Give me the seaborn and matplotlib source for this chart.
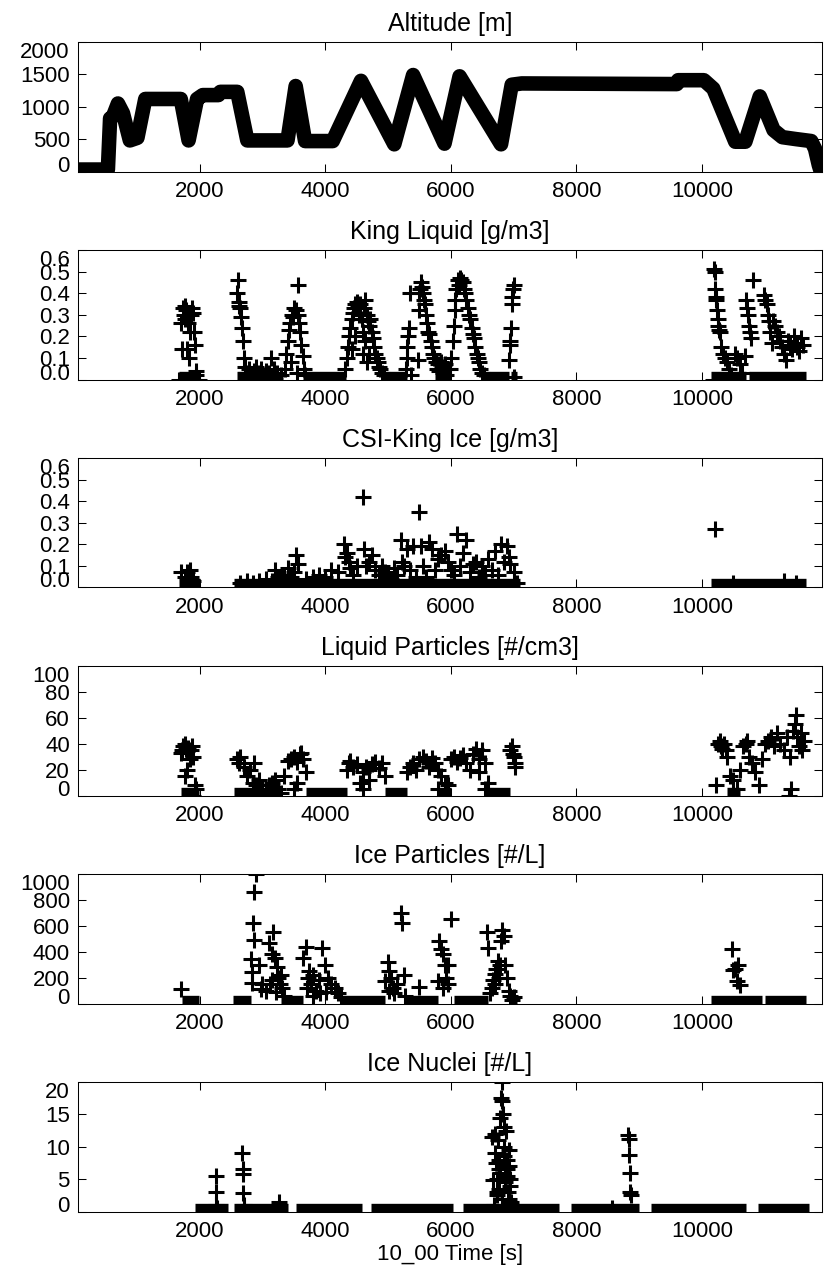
import matplotlib
matplotlib.use("Agg")
import matplotlib.pyplot as plt
import seaborn as sns
import pandas as pd
from matplotlib.transforms import blended_transform_factory

sns.set_style("white")
plt.rcParams['font.family'] = ['Liberation Sans', 'DejaVu Sans']
plt.rcParams['text.color'] = 'black'
plt.rcParams['axes.labelcolor'] = 'black'
plt.rcParams['xtick.color'] = 'black'
plt.rcParams['ytick.color'] = 'black'

# ---------------- data ----------------
titles = ["Altitude [m]", "King Liquid [g/m3]", "CSI-King Ice [g/m3]",
          "Liquid Particles [#/cm3]", "Ice Particles [#/L]", "Ice Nuclei [#/L]"]
xlabel = "10_00 Time [s]"
x_ticks = [2000, 4000, 6000, 8000, 10000]
x_range = [64, 11911]

y_ranges = [(0, 2000), (0, 0.6), (0, 0.6), (0, 100), (0, 1000), (0, 20)]
y_ticks = [[0, 500, 1000, 1500, 2000],
           [0, 0.1, 0.2, 0.3, 0.4, 0.5, 0.6],
           [0, 0.1, 0.2, 0.3, 0.4, 0.5, 0.6],
           [0, 20, 40, 60, 80, 100],
           [0, 200, 400, 600, 800, 1000],
           [0, 5, 10, 15, 20]]
y_ticklabels = [["0", "500", "1000", "1500", "2000"],
                ["0.0", "0.1", "0.2", "0.3", "0.4", "0.5", "0.6"],
                ["0.0", "0.1", "0.2", "0.3", "0.4", "0.5", "0.6"],
                ["0", "20", "40", "60", "80", "100"],
                ["0", "200", "400", "600", "800", "1000"],
                ["0", "5", "10", "15", "20"]]

# Altitude trace
alt_t = [64, 540, 575, 620, 700, 780, 890, 1010, 1135, 1700, 1825, 1960, 2050, 2300,
         2330, 2600, 2760, 3400, 3530, 3680, 4120, 4570, 5100, 5400, 5900, 6140,
         6800, 6970, 7130, 9600, 9620, 10030, 10180, 10530, 10690, 10920, 11140,
         11280, 11500, 11740, 11800, 11860, 11911]
alt_v = [30, 30, 820, 850, 1050, 900, 480, 520, 1120, 1120, 480, 1120, 1180, 1180,
         1230, 1230, 480, 480, 1320, 470, 470, 1400, 420, 1490, 430, 1470,
         420, 1340, 1360, 1350, 1410, 1410, 1280, 460, 460, 1160, 640,
         530, 500, 470, 350, 100, -60]

# King Liquid
kl_t = [1680, 1700, 1715, 1730, 1745, 1760, 1775, 1790, 1800, 1815, 1830, 1845, 1860, 1875, 1890, 1905, 1920, 1935, 1950, 1965, 1990,
        2590, 2610, 2620, 2635, 2650, 2665, 2680, 2695, 2710, 2725, 2740,
        2780, 2820, 2860, 2900, 2940, 2980, 3020, 3060, 3100, 3145, 3190, 3240, 3290,
        3360, 3380, 3400, 3420, 3440, 3455, 3470, 3490, 3510, 3530, 3545, 3560, 3575, 3590, 3605, 3620, 3640, 3660, 3680,
        4320, 4340, 4360, 4380, 4400, 4420, 4440, 4460, 4480, 4500, 4520, 4540, 4560, 4580, 4600, 4620, 4640, 4660,
        4680, 4700, 4720, 4740, 4760, 4780, 4800, 4820, 4840, 4860, 4880, 4900, 4930, 4600, 4640, 4700, 4660, 4420, 4470,
        5290, 5300, 5310, 5320, 5330, 5345, 5360, 5480, 5490, 5500, 5515, 5530, 5545, 5560, 5575, 5590, 5605, 5620,
        5640, 5660, 5680, 5700, 5720, 5740, 5760, 5780, 5800, 5820, 5840, 5860, 5880, 5900, 5920, 5940,
        5990, 6010, 6030, 6050, 6060, 6070, 6090, 6110, 6130, 6150, 6170, 6190, 6210, 6230, 6250, 6270, 6290, 6310,
        6330, 6350, 6370, 6390, 6410, 6430, 6450, 6470, 6500, 6530,
        6930, 6940, 6950, 6960, 6970, 6980, 6990, 7000, 7010,
        10190, 10200, 10210, 10220, 10230, 10240, 10250, 10260, 10270, 10280, 10180,
        10310, 10340, 10370, 10400, 10430, 10460, 10520, 10560, 10600, 10640, 10680,
        10700, 10720, 10735, 10750, 10765, 10780, 10820,
        10990, 11010, 11030, 11050, 11070, 11090, 11110,
        11130, 11160, 11190, 11220, 11250, 11280, 11310, 11340, 11370, 11400, 11430, 11460, 11490, 11520, 11550, 11580, 11610,
        10500, 10900, 11400]
kl_v = [0.00, 0.26, 0.14, 0.33, 0.30, 0.34, 0.28, 0.32, 0.14, 0.26, 0.10, 0.22, 0.30, 0.33, 0.31, 0.22, 0.16, 0.04, 0.02, 0.00, 0.00,
        0.40, 0.46, 0.36, 0.34, 0.33, 0.29, 0.24, 0.18, 0.10, 0.06, 0.03,
        0.05, 0.02, 0.04, 0.06, 0.03, 0.05, 0.02, 0.04, 0.03, 0.10, 0.05, 0.03, 0.02,
        0.05, 0.12, 0.18, 0.23, 0.26, 0.08, 0.30, 0.29, 0.33, 0.32, 0.03, 0.30, 0.44, 0.26, 0.22, 0.16, 0.11, 0.05, 0.02,
        0.05, 0.10, 0.15, 0.20, 0.24, 0.28, 0.31, 0.33, 0.35, 0.36, 0.34, 0.30, 0.35, 0.28, 0.22, 0.33, 0.37, 0.30,
        0.27, 0.25, 0.28, 0.22, 0.19, 0.15, 0.12, 0.10, 0.08, 0.06, 0.05, 0.03, 0.02, 0.12, 0.18, 0.12, 0.08, 0.14, 0.20,
        0.05, 0.10, 0.15, 0.20, 0.24, 0.40, 0.02, 0.09, 0.32, 0.40, 0.42, 0.45, 0.43, 0.40, 0.37, 0.35, 0.30, 0.26,
        0.22, 0.21, 0.18, 0.15, 0.12, 0.10, 0.08, 0.05, 0.07, 0.04, 0.08, 0.06, 0.03, 0.07, 0.02, 0.05,
        0.05, 0.10, 0.18, 0.25, 0.32, 0.37, 0.42, 0.46, 0.44, 0.47, 0.46, 0.45, 0.42, 0.40, 0.37, 0.33, 0.30, 0.28,
        0.24, 0.21, 0.19, 0.15, 0.12, 0.10, 0.08, 0.05, 0.03, 0.02,
        0.09, 0.16, 0.18, 0.24, 0.35, 0.38, 0.42, 0.44, 0.01,
        0.51, 0.50, 0.42, 0.38, 0.37, 0.32, 0.28, 0.25, 0.23, 0.22, 0.00,
        0.15, 0.12, 0.10, 0.08, 0.05, 0.02, 0.12, 0.10, 0.07, 0.03, 0.11,
        0.37, 0.33, 0.30, 0.25, 0.22, 0.19, 0.46,
        0.39, 0.37, 0.35, 0.30, 0.27, 0.22, 0.17,
        0.27, 0.25, 0.22, 0.20, 0.18, 0.15, 0.12, 0.09, 0.18, 0.16, 0.14, 0.20, 0.17, 0.15, 0.13, 0.19, 0.16,
        0.00, 0.00, 0.00]
kl_zero = [(1680, 1990), (2600, 3330), (3650, 4330), (4900, 5300), (5750, 6000),
           (6480, 6930), (6960, 7060), (10150, 10700), (10750, 11650)]

# CSI-King Ice
ci_t = [1700, 1760, 1800, 1850, 1870, 1900,
        2650, 2750, 2850, 2950, 3050, 3150, 3200, 3250, 3300, 3350, 3400, 3450, 3500, 3530, 3560,
        3700, 3800, 3900, 4000, 4100, 4200, 4300, 4320, 4350, 4380, 4400, 4450, 4500,
        4600, 4620, 4650, 4700, 4750, 4800, 4850, 4900, 4950, 5000, 5050, 5100, 5150,
        5200, 5220, 5250, 5300, 5350, 5400, 5450, 5500, 5520, 5550, 5600, 5650, 5700, 5750,
        5800, 5850, 5900, 5950, 6000, 6050, 6100, 6150, 6200, 6250, 6300, 6350, 6400, 6450,
        6500, 6550, 6600, 6650, 6700, 6750, 6800, 6850, 6900, 6920, 6950, 7000, 7050,
        10200, 10500, 11300, 11500]
ci_v = [0.07, 0.05, 0.07, 0.08, 0.05, 0.03,
        0.02, 0.03, 0.02, 0.03, 0.04, 0.03, 0.08, 0.05, 0.04, 0.06, 0.09, 0.05, 0.07, 0.15, 0.11,
        0.04, 0.05, 0.06, 0.05, 0.08, 0.07, 0.20, 0.14, 0.16, 0.12, 0.09, 0.06, 0.10,
        0.42, 0.18, 0.10, 0.12, 0.15, 0.08, 0.06, 0.10, 0.07, 0.05, 0.04, 0.09, 0.06,
        0.22, 0.12, 0.10, 0.18, 0.08, 0.19, 0.05, 0.35, 0.19, 0.10, 0.05, 0.21, 0.18, 0.08,
        0.13, 0.15, 0.17, 0.12, 0.08, 0.06, 0.25, 0.10, 0.16, 0.22, 0.07, 0.11, 0.12, 0.05,
        0.10, 0.06, 0.13, 0.08, 0.17, 0.06, 0.20, 0.12, 0.19, 0.14, 0.11, 0.07, 0.02,
        0.27, 0.02, 0.03, 0.02]
ci_zero = [(1680, 2000), (2550, 7100), (10150, 11650)]

# Liquid Particles
lp_t = [1700, 1720, 1740, 1760, 1780, 1800, 1820, 1840, 1860, 1880, 1900, 1920, 1940, 1800, 1760, 1900,
        2600, 2620, 2650, 2700, 2750, 2800, 2850, 2870, 2900, 2950, 3000, 3050, 3100, 3150, 3200, 3250, 3300,
        3350, 3400, 3450, 3500, 3550, 3600, 3620, 3650, 3700, 3550, 3500,
        4350, 4380, 4400, 4450, 4500, 4550, 4600, 4650, 4700, 4750, 4800, 4850, 4900, 4950, 4600, 4700,
        5300, 5350, 5400, 5450, 5500, 5550, 5600, 5650, 5700, 5750, 5800, 5850, 5900, 5950, 5800,
        6000, 6050, 6100, 6150, 6200, 6250, 6300, 6350, 6400, 6450, 6500, 6550, 6600, 6450, 6550,
        6950, 6970, 6990, 7010, 7020, 7030,
        10220, 10250, 10280, 10300, 10320, 10350, 10380, 10400, 10450, 10500, 10550, 10600, 10650,
        10700, 10720, 10750, 10800, 10850, 10900, 10950, 11000, 11050, 11100, 11150, 11200, 11250,
        11300, 11350, 11400, 11420, 11450, 11480, 11500, 11520, 11550, 11580, 11600, 11620, 11380]
lp_v = [33, 35, 38, 40, 36, 34, 37, 28, 35, 38, 30, 8, 5, 20, 15, 0,
        28, 25, 30, 22, 15, 20, 10, 25, 8, 12, 5, 3, 8, 10, 12, 5, 2,
        15, 27, 28, 30, 26, 32, 33, 28, 18, 10, 5,
        20, 25, 27, 22, 24, 10, 18, 22, 20, 24, 26, 21, 25, 15, 5, 12,
        18, 22, 25, 20, 28, 30, 27, 22, 29, 25, 20, 15, 10, 8, 5,
        28, 30, 26, 29, 31, 25, 20, 32, 36, 28, 35, 25, 10, 18, 5,
        35, 38, 32, 30, 25, 22,
        8, 40, 42, 38, 36, 40, 35, 30, 15, 12, 5, 20, 38,
        40, 42, 30, 25, 18, 8, 28, 40, 42, 45, 38, 48, 40,
        35, 45, 30, 5, 50, 55, 62, 45, 38, 48, 35, 42, 0]
lp_zero = [(1700, 1990), (2550, 3300), (3700, 4350), (4950, 5300), (5800, 6000),
           (6550, 6950), (10400, 10600)]

# Ice Particles
ip_t = [1700,
        2820, 2830, 2840, 2850, 2860, 2870, 2900, 2950, 2980, 3000, 3050, 3100, 3150, 3170, 3200,
        3230, 3250, 3280, 3300, 3320, 3350, 3120, 3160, 3210,
        3650, 3700, 3720, 3750, 3780, 3800, 3850, 3900, 3950, 4000, 4050, 4100, 4150, 4200, 4250,
        3710, 3810, 3910, 4010,
        4950, 5000, 5020, 5050, 5080, 5100, 5150, 5200, 5220, 5250, 5270, 5010,
        5500,
        5800, 5820, 5850, 5870, 5900, 5920, 5950, 6000, 5960, 5880,
        6580, 6600, 6620, 6650, 6680, 6700, 6720, 6750, 6780, 6800, 6820, 6850, 6870, 6900,
        6920, 6950, 6980, 7000, 6760, 6710,
        10480, 10500, 10520, 10550, 10580, 10600]
ip_v = [115,
        340, 240, 160, 620, 490, 860, 1000, 300, 110, 150, 100, 470, 380, 550, 350,
        280, 200, 150, 220, 120, 60, 150, 180, 90,
        350, 440, 200, 250, 150, 220, 100, 180, 430, 300, 200, 150, 120, 80, 50,
        120, 60, 80, 90,
        170, 320, 250, 200, 120, 80, 150, 700, 620, 220, 60, 100,
        130,
        170, 480, 420, 380, 300, 200, 150, 650, 300, 120,
        550, 430, 80, 120, 180, 230, 270, 330, 300, 480, 570, 520, 300, 200,
        100, 60, 30, 50, 200, 150,
        420, 260, 270, 170, 300, 140]
ip_zero = [(1720, 1990), (2540, 2820), (3300, 3650), (4250, 4950), (5250, 5800),
           (6050, 6600), (6950, 7060), (10150, 10950), (11000, 11650)]

# Ice Nuclei
in_t = [2255, 2260, 2265, 2270,
        2680, 2685, 2690, 2695, 2700, 2705, 3270,
        6660, 6680, 6700, 6710, 6720, 6730, 6740, 6750, 6760, 6770, 6780, 6790, 6800, 6810,
        6820, 6830, 6840, 6850, 6860, 6870, 6880, 6890, 6900, 6910, 6920, 6930, 6940, 6950, 6960,
        6690, 6730, 6770, 6810, 6850, 6890, 6930,
        8560, 8820, 8830, 8840, 8850, 8860, 8870]
in_v = [5.5, 3.0, 1.0, 0.5,
        9.0, 6.5, 5.8, 2.8, 1.0, 0.5, 1.5,
        11.5, 4.8, 12.0, 9.0, 7.5, 5.0, 2.5, 11.0, 8.0, 3.5, 6.0, 14.5, 17.5, 20.0,
        17.0, 15.0, 13.0, 10.0, 7.0, 4.5, 12.5, 8.0, 6.5, 3.0, 9.5, 2.0, 5.0, 4.0, 1.5,
        1.0, 3.0, 6.5, 2.0, 8.5, 5.5, 7.0,
        0.5, 11.8, 11.2, 8.8, 6.0, 3.0, 2.5]
in_zero = [(1920, 2460), (2550, 3400), (3540, 4590), (4730, 6030), (6200, 7730),
           (7910, 9000), (9190, 10700), (10890, 11710)]

scatter_sets = [None, (kl_t, kl_v, kl_zero), (ci_t, ci_v, ci_zero),
                (lp_t, lp_v, lp_zero), (ip_t, ip_v, ip_zero), (in_t, in_v, in_zero)]

# ---------------- figure ----------------
W, H = 835, 1275
fig = plt.figure(figsize=(W / 100, H / 100), dpi=100)
left_px, right_px = 78, 822
tops = [42, 250, 458, 666, 874, 1082]
hpx = 129.5
FS = 16

for i, top in enumerate(tops):
    ax = fig.add_axes([left_px / W, 1 - (top + hpx) / H, (right_px - left_px) / W, hpx / H])
    lo, hi = y_ranges[i]
    if i == 0:
        df = pd.DataFrame({"t": alt_t, "v": alt_v})
        sns.lineplot(data=df, x="t", y="v", ax=ax, color="black", linewidth=10.5,
                     estimator=None, sort=False, solid_capstyle="round", solid_joinstyle="round")
    else:
        tt, vv, zr = scatter_sets[i]
        df = pd.DataFrame({"t": tt, "v": vv})
        for a, b in zr:
            ax.hlines(0, a, b, color="black", linewidth=12.5)
        sns.scatterplot(data=df, x="t", y="v", ax=ax, marker="+", s=121,
                        color="black", linewidth=2.2)
    ax.set_xlim(*x_range)
    ax.set_ylim(lo, hi)
    ax.set_xticks(x_ticks)
    ax.set_xticklabels([str(x) for x in x_ticks], fontsize=FS)
    ax.set_yticks(y_ticks[i])
    ax.set_yticklabels([])
    tr = blended_transform_factory(ax.transAxes, ax.transData)
    for tv, lab in zip(y_ticks[i], y_ticklabels[i]):
        if tv == hi:
            va = "top"
        elif tv == lo:
            va = "baseline"
        else:
            va = "center_baseline"
        ax.text(-0.011, tv, lab, transform=tr, ha="right", va=va, fontsize=FS)
    ax.tick_params(direction="in", length=5.5, width=0.75, top=True, right=True,
                   bottom=True, left=True, pad=7, colors="black")
    for sp in ax.spines.values():
        sp.set_visible(True)
        sp.set_color("black")
        sp.set_linewidth(0.75)
    ax.set_title(titles[i], fontsize=18, pad=8)
    ax.set_xlabel(xlabel if i == 5 else "", fontsize=FS, labelpad=1)
    ax.set_ylabel("")

fig.savefig("out.png", dpi=100)
